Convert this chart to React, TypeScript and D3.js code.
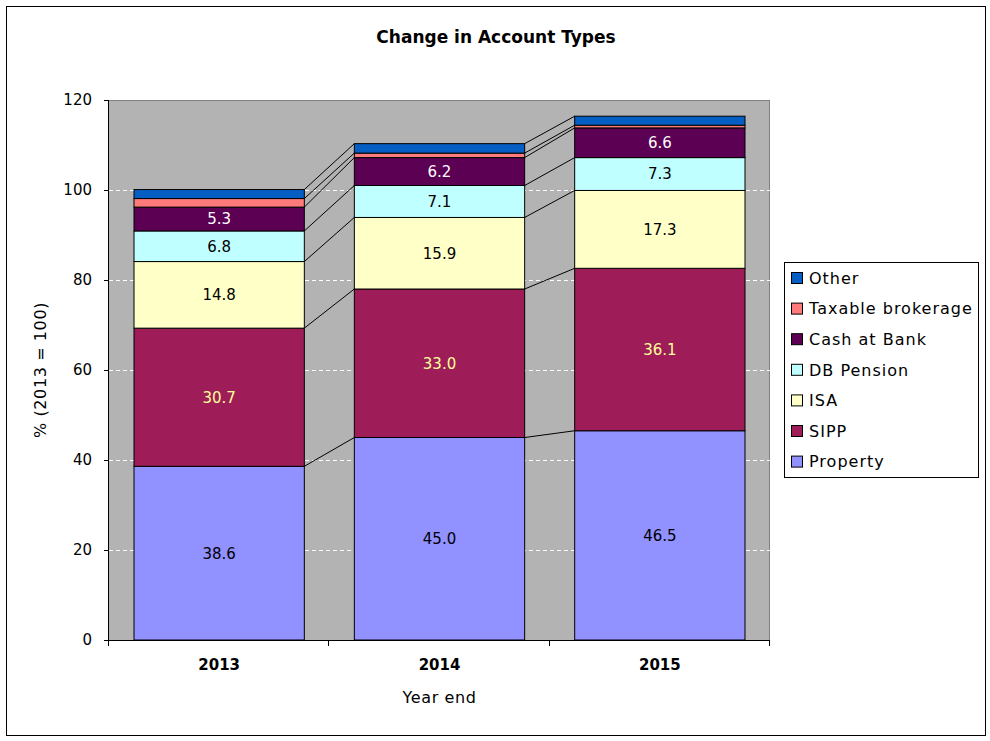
import React from "react";
import * as d3 from "d3";

const years = ["2013", "2014", "2015"];
const seriesNames = ["Property", "SIPP", "ISA", "DB Pension", "Cash at Bank", "Taxable brokerage", "Other"];
const property = [38.6, 45.0, 46.5];
const sipp = [30.7, 33.0, 36.1];
const isa = [14.8, 15.9, 17.3];
const dbPension = [6.8, 7.1, 7.3];
const cashAtBank = [5.3, 6.2, 6.6];
const taxableBrokerage = [1.9, 1.0, 0.6];
const other = [2.0, 2.1, 2.0];
const yTicks = [0, 20, 40, 60, 80, 100, 120];

const seriesValues = [property, sipp, isa, dbPension, cashAtBank, taxableBrokerage, other];
const colors = ["#9191FF", "#9E1C58", "#FFFFC8", "#C0FFFF", "#5C0054", "#FF7B7B", "#055EC4"];
const labelColors = ["#000", "#FFFF99", "#000", "#000", "#FFF", null, null];

const FONT = "'DejaVu Sans', sans-serif";

export default function App() {
  const W = 990, H = 741;
  const left = 109, right = 770, top = 100, bottom = 640;
  const x = d3.scaleBand<string>().domain(years).range([left, right]).paddingInner(0.227).paddingOuter(0.1135);
  const y = d3.scaleLinear().domain([0, 120]).range([bottom, top]);

  const table = years.map((yr, i) => {
    const row: any = { year: yr };
    seriesNames.forEach((s, k) => (row[s] = seriesValues[k][i]));
    return row;
  });
  const stacked = d3.stack<any>().keys(seriesNames)(table);
  const bw = x.bandwidth();

  const legendX = 784, legendY = 262, legendW = 194, legendH = 215;
  const legendOrder = [...seriesNames].reverse();

  return (
    <svg width={W} height={H} style={{ position: "absolute", left: 0, top: 0, background: "#fff" }} fontFamily={FONT}>
      <rect x={6.5} y={6.5} width={979} height={729} fill="#fff" stroke="#000" strokeWidth={1} />
      <text x={496} y={43} textAnchor="middle" fontWeight="bold" fontSize={17}>Change in Account Types</text>

      {/* plot area */}
      <rect x={left} y={top} width={right - left} height={bottom - top} fill="#B3B3B3" />
      <line x1={left} x2={right} y1={top + 0.5} y2={top + 0.5} stroke="#808080" />
      <line x1={right - 0.5} x2={right - 0.5} y1={top} y2={bottom} stroke="#808080" />
      {yTicks.filter(t => t > 0 && t < 120).map(t => (
        <line key={t} x1={left} x2={right} y1={Math.round(y(t)) + 0.5} y2={Math.round(y(t)) + 0.5}
          stroke="#fff" strokeDasharray="4,3" />
      ))}

      {/* series lines */}
      {stacked.map((s, k) =>
        years.slice(0, -1).map((yr, i) => (
          <line key={`sl${k}-${i}`} x1={(x(yr) as number) + bw} y1={y(s[i][1])}
            x2={x(years[i + 1]) as number} y2={y(s[i + 1][1])} stroke="#000" strokeWidth={1} />
        ))
      )}

      {/* bars */}
      {stacked.map((s, k) =>
        s.map((d, i) => (
          <rect key={`b${k}-${i}`} x={x(years[i])} y={y(d[1])} width={bw} height={y(d[0]) - y(d[1])}
            fill={colors[k]} stroke="#000" strokeWidth={1} />
        ))
      )}

      {/* data labels */}
      {stacked.map((s, k) =>
        labelColors[k]
          ? s.map((d, i) => (
              <text key={`l${k}-${i}`} x={(x(years[i]) as number) + bw / 2} y={(y(d[0]) + y(d[1])) / 2}
                dy="0.36em" textAnchor="middle" fontSize={15} fill={labelColors[k] as string}>
                {seriesValues[k][i].toFixed(1)}
              </text>
            ))
          : null
      )}

      {/* axes */}
      <line x1={left - 0.5} x2={left - 0.5} y1={top} y2={bottom} stroke="#000" />
      <line x1={left - 5} x2={right} y1={bottom + 0.5} y2={bottom + 0.5} stroke="#000" />
      {yTicks.map(t => (
        <g key={`yt${t}`}>
          <line x1={left - 5} x2={left} y1={Math.round(y(t)) + 0.5} y2={Math.round(y(t)) + 0.5} stroke="#000" />
          <text x={92} y={y(t)} dy="0.36em" textAnchor="end" fontSize={15}>{t}</text>
        </g>
      ))}
      {[...years.map(yr => (x(yr) as number) - x.step() * 0.1135), right].map((tx, i) => (
        <line key={`xt${i}`} x1={Math.round(tx) - 0.5} x2={Math.round(tx) - 0.5} y1={bottom} y2={bottom + 6} stroke="#000" />
      ))}
      {years.map(yr => (
        <text key={`xl${yr}`} x={(x(yr) as number) + bw / 2} y={665} dy="0.36em" textAnchor="middle"
          fontWeight="bold" fontSize={15}>{yr}</text>
      ))}
      <text x={(left + right) / 2} y={697} dy="0.36em" textAnchor="middle" fontSize={16} letterSpacing={0.6}>Year end</text>
      <text transform={`translate(40,${(top + bottom) / 2}) rotate(-90)`} textAnchor="middle" dy="0.36em"
        fontSize={16} letterSpacing={0.6}>% (2013 = 100)</text>

      {/* legend */}
      <rect x={legendX + 0.5} y={legendY + 0.5} width={legendW} height={legendH} fill="#fff" stroke="#000" />
      {legendOrder.map((name, j) => {
        const k = seriesNames.indexOf(name);
        const cy = 278 + j * 30.6;
        return (
          <g key={name}>
            <rect x={791.5} y={cy - 5.5} width={11} height={11} fill={colors[k]} stroke="#000" />
            <text x={809} y={cy} dy="0.36em" fontSize={16} letterSpacing={1}>{name}</text>
          </g>
        );
      })}
    </svg>
  );
}
